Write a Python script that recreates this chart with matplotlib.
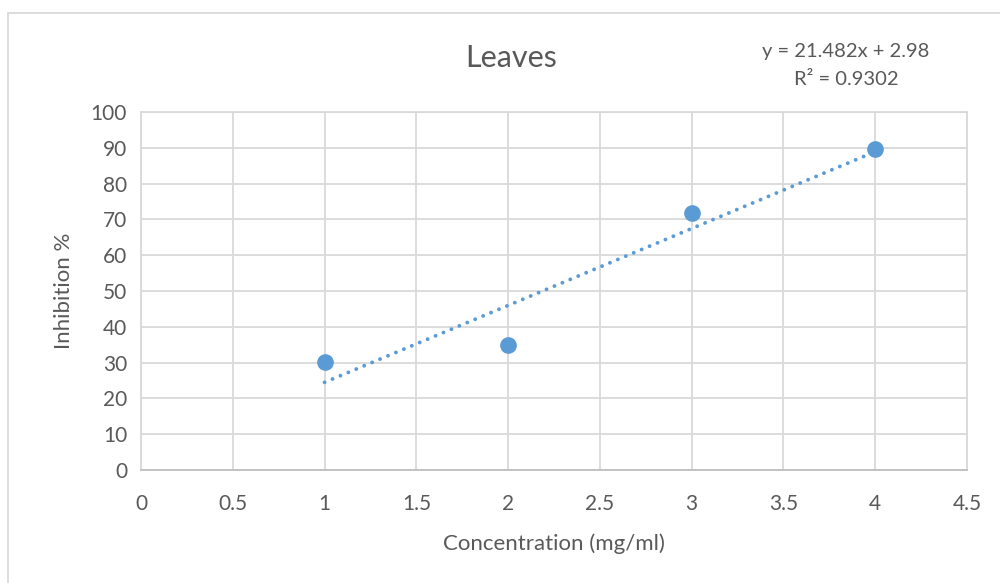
import matplotlib
matplotlib.use("Agg")
from matplotlib import pyplot as plt
from matplotlib.patches import Rectangle
import numpy as np

concentration = [1, 2, 3, 4]
inhibition = [30.2, 35.0, 71.8, 89.6]
slope = 21.482
intercept = 2.98
r_squared = 0.9302

text_color = '#595959'
grid_color = '#D9D9D9'
point_color = '#5B9BD5'

plt.rcParams['font.family'] = ['Lato', 'DejaVu Sans']

fig = plt.figure(figsize=(10, 5.83), dpi=100)
ax = fig.add_axes([0.141, 0.194, 0.826, 0.614])

# trendline over data range
xs = np.array([concentration[0], concentration[-1]])
ax.plot(xs, slope * xs + intercept, linestyle=(0, (0.01, 2.2)), linewidth=2.8,
        color=point_color, dash_capstyle='round', zorder=2)
ax.plot(concentration, inhibition, 'o', markersize=11, color=point_color, zorder=3)

ax.set_xlim(0, 4.5)
ax.set_ylim(0, 100)
ax.set_xticks(np.arange(0, 4.51, 0.5))
ax.set_xticklabels(['0', '0.5', '1', '1.5', '2', '2.5', '3', '3.5', '4', '4.5'])
ax.set_yticks(np.arange(0, 101, 10))
ax.grid(True, color=grid_color, linewidth=1.3)
ax.set_axisbelow(True)
for s in ax.spines.values():
    s.set_color(grid_color)
    s.set_linewidth(1.3)
ax.spines['bottom'].set_color('#BFBFBF')
ax.tick_params(length=0, labelsize=15, colors=text_color, pad=10)
ax.tick_params(axis='x', pad=17)

ax.set_xlabel('Concentration (mg/ml)', fontsize=16, color=text_color, labelpad=14)
ax.set_ylabel('Inhibition %', fontsize=16, color=text_color, labelpad=12)

fig.text(0.511, 1 - 58 / 583, 'Leaves', fontsize=22, color=text_color,
         ha='center', va='center')
fig.text(0.846, 1 - 52 / 583, 'y = %.3fx + %.2f' % (slope, intercept),
         fontsize=14.5, color=text_color, ha='center', va='center')
fig.text(0.846, 1 - 80 / 583, 'R² = %.4f' % r_squared,
         fontsize=14.5, color=text_color, ha='center', va='center')

# chart border
fig.patches.append(Rectangle((0.008, -0.1), 1.2, 1 - 13 / 583 + 0.1,
                             transform=fig.transFigure, fill=False,
                             edgecolor=grid_color, linewidth=1.3))

fig.savefig('out.png', dpi=100)
